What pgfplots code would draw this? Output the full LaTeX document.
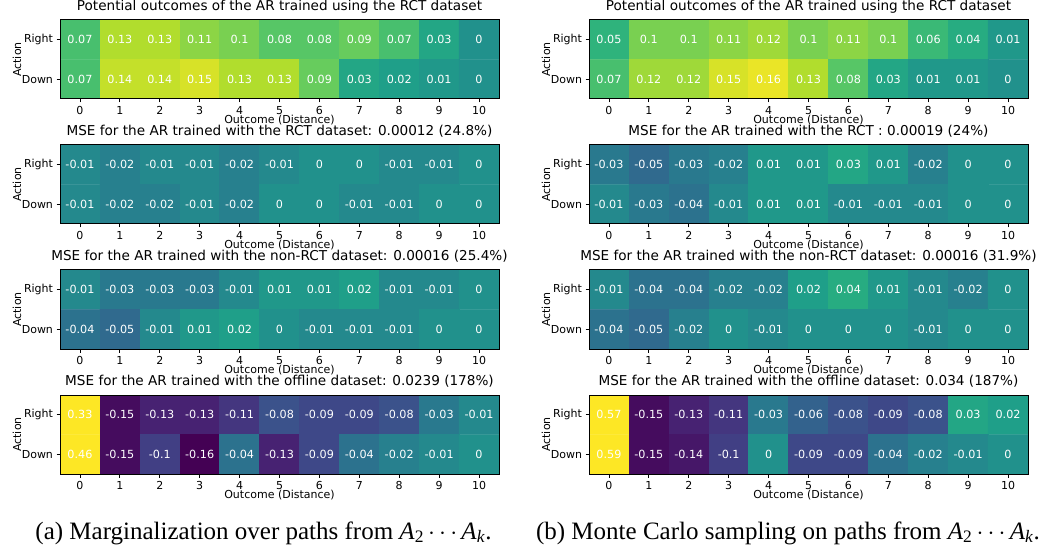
\documentclass[border=0pt]{standalone}
\usepackage{pgfplots}
\pgfplotsset{compat=1.18}
\usepackage{pgfplotstable}
\usepackage{fontspec}
\setmainfont{DejaVu Sans}
\newfontfamily\capfont{Liberation Serif}

\pgfplotsset{
 colormap={vir}{rgb255(0pt)=(68,1,84) rgb255(3.556pt)=(72,40,120) rgb255(4pt)=(71,45,123)
   rgb255(7.111pt)=(62,73,137) rgb255(8pt)=(59,82,139) rgb255(10.667pt)=(49,104,142)
   rgb255(12pt)=(44,114,142) rgb255(14.222pt)=(38,130,142) rgb255(16pt)=(33,145,140)
   rgb255(17.89pt)=(31,158,137) rgb255(20.25pt)=(40,174,128) rgb255(21.67pt)=(53,183,121)
   rgb255(24.5pt)=(94,201,98) rgb255(25.44pt)=(110,206,88) rgb255(28.75pt)=(173,220,48)
   rgb255(29.22pt)=(181,222,43) rgb255(33pt)=(253,231,37)},
 hm/.style={
  scale only axis, width=439pt, height=79pt,
  xmin=-0.5, xmax=10.5, ymin=-0.5, ymax=1.5, y dir=reverse,
  xtick={0,...,10}, ytick={0,1}, yticklabels={Right,Down},
  tick pos=left, tick align=outside, major tick length=3.5pt,
  every tick/.style={black, line width=0.9pt},
  axis line style={line width=1pt},
  axis on top,
  colormap name=vir, point meta min=-0.16, point meta max=0.17,
  /pgf/number format/assume math mode=true,
  tick label style={font=\fontsize{11}{13}\selectfont},
  label style={font=\fontsize{11}{13}\selectfont},
  title style={font=\fontsize{13.6}{16}\selectfont, at={(axis description cs:0.5,1.0443)}, anchor=base, inner sep=0pt},
  xlabel={Outcome (Distance)}, ylabel={Action},
  xlabel style={at={(axis description cs:0.5,-0.315)}, anchor=base, inner sep=0pt},
  ylabel style={at={(axis description cs:-0.098,0.5)}, anchor=center},
 },
}
\newcommand{\hmplot}[1]{%
 \addplot[matrix plot*, mesh/cols=11, point meta=explicit] table[x=x,y=y,meta=v]{#1};
 \addplot[only marks, mark=none, point meta=explicit symbolic, nodes near coords,
   nodes near coords align={center},
   every node near coord/.style={font=\fontsize{11.2}{13}\selectfont, text=white, anchor=center}]
   table[x=x,y=y,meta=v]{#1};
}

\pgfplotstableread{
x y v
0 0 0.07
1 0 0.13
2 0 0.13
3 0 0.11
4 0 0.1
5 0 0.08
6 0 0.08
7 0 0.09
8 0 0.07
9 0 0.03
10 0 0
0 1 0.07
1 1 0.14
2 1 0.14
3 1 0.15
4 1 0.13
5 1 0.13
6 1 0.09
7 1 0.03
8 1 0.02
9 1 0.01
10 1 0
}\LA
\pgfplotstableread{
x y v
0 0 0.05
1 0 0.1
2 0 0.1
3 0 0.11
4 0 0.12
5 0 0.1
6 0 0.11
7 0 0.1
8 0 0.06
9 0 0.04
10 0 0.01
0 1 0.07
1 1 0.12
2 1 0.12
3 1 0.15
4 1 0.16
5 1 0.13
6 1 0.08
7 1 0.03
8 1 0.01
9 1 0.01
10 1 0
}\RA
\pgfplotstableread{
x y v
0 0 -0.01
1 0 -0.02
2 0 -0.01
3 0 -0.01
4 0 -0.02
5 0 -0.01
6 0 0
7 0 0
8 0 -0.01
9 0 -0.01
10 0 0
0 1 -0.01
1 1 -0.02
2 1 -0.02
3 1 -0.01
4 1 -0.02
5 1 0
6 1 0
7 1 -0.01
8 1 -0.01
9 1 0
10 1 0
}\LB
\pgfplotstableread{
x y v
0 0 -0.03
1 0 -0.05
2 0 -0.03
3 0 -0.02
4 0 0.01
5 0 0.01
6 0 0.03
7 0 0.01
8 0 -0.02
9 0 0
10 0 0
0 1 -0.01
1 1 -0.03
2 1 -0.04
3 1 -0.01
4 1 0.01
5 1 0.01
6 1 -0.01
7 1 -0.01
8 1 -0.01
9 1 0
10 1 0
}\RB
\pgfplotstableread{
x y v
0 0 -0.01
1 0 -0.03
2 0 -0.03
3 0 -0.03
4 0 -0.01
5 0 0.01
6 0 0.01
7 0 0.02
8 0 -0.01
9 0 -0.01
10 0 0
0 1 -0.04
1 1 -0.05
2 1 -0.01
3 1 0.01
4 1 0.02
5 1 0
6 1 -0.01
7 1 -0.01
8 1 -0.01
9 1 0
10 1 0
}\LC
\pgfplotstableread{
x y v
0 0 -0.01
1 0 -0.04
2 0 -0.04
3 0 -0.02
4 0 -0.02
5 0 0.02
6 0 0.04
7 0 0.01
8 0 -0.01
9 0 -0.02
10 0 0
0 1 -0.04
1 1 -0.05
2 1 -0.02
3 1 0
4 1 -0.01
5 1 0
6 1 0
7 1 0
8 1 -0.01
9 1 0
10 1 0
}\RC
\pgfplotstableread{
x y v
0 0 0.33
1 0 -0.15
2 0 -0.13
3 0 -0.13
4 0 -0.11
5 0 -0.08
6 0 -0.09
7 0 -0.09
8 0 -0.08
9 0 -0.03
10 0 -0.01
0 1 0.46
1 1 -0.15
2 1 -0.1
3 1 -0.16
4 1 -0.04
5 1 -0.13
6 1 -0.09
7 1 -0.04
8 1 -0.02
9 1 -0.01
10 1 0
}\LD
\pgfplotstableread{
x y v
0 0 0.57
1 0 -0.15
2 0 -0.13
3 0 -0.11
4 0 -0.03
5 0 -0.06
6 0 -0.08
7 0 -0.09
8 0 -0.08
9 0 0.03
10 0 0.02
0 1 0.59
1 1 -0.15
2 1 -0.14
3 1 -0.1
4 1 0
5 1 -0.09
6 1 -0.09
7 1 -0.04
8 1 -0.02
9 1 -0.01
10 1 0
}\RD

\begin{document}
\begin{tikzpicture}
\path[use as bounding box] (0pt,0pt) rectangle (1041pt,552pt);

\begin{axis}[hm, at={(60pt,453pt)}, anchor=south west, title={Potential outcomes of the AR trained using the RCT dataset}]
\hmplot{\LA}
\end{axis}
\begin{axis}[hm, at={(589pt,453pt)}, anchor=south west, title={Potential outcomes of the AR trained using the RCT dataset}]
\hmplot{\RA}
\end{axis}

\begin{axis}[hm, at={(60pt,328pt)}, anchor=south west, title={MSE for the AR trained with the RCT dataset: 0.00012 (24.8\%)}]
\hmplot{\LB}
\end{axis}
\begin{axis}[hm, at={(589pt,328pt)}, anchor=south west, title={MSE for the AR trained with the RCT : 0.00019 (24\%)}]
\hmplot{\RB}
\end{axis}

\begin{axis}[hm, at={(60pt,203pt)}, anchor=south west, title={MSE for the AR trained with the non-RCT dataset: 0.00016 (25.4\%)}]
\hmplot{\LC}
\end{axis}
\begin{axis}[hm, at={(589pt,203pt)}, anchor=south west, title={MSE for the AR trained with the non-RCT dataset: 0.00016 (31.9\%)}]
\hmplot{\RC}
\end{axis}

\begin{axis}[hm, at={(60pt,78pt)}, anchor=south west, title={MSE for the AR trained with the offline dataset: 0.0239 (178\%)}]
\hmplot{\LD}
\end{axis}
\begin{axis}[hm, at={(589pt,78pt)}, anchor=south west, title={MSE for the AR trained with the offline dataset: 0.034 (187\%)}]
\hmplot{\RD}
\end{axis}

\node[font=\capfont\fontsize{25}{30}\selectfont] at (263.5pt,19pt) {(a) Marginalization over paths from \textit{A}\textsubscript{2}\,$\cdots$\,\textit{A}\textsubscript{\textit{k}}.};
\node[font=\capfont\fontsize{25}{30}\selectfont] at (788pt,19pt) {(b) Monte Carlo sampling on paths from \textit{A}\textsubscript{2}\,$\cdots$\,\textit{A}\textsubscript{\textit{k}}.};
\end{tikzpicture}
\end{document}
